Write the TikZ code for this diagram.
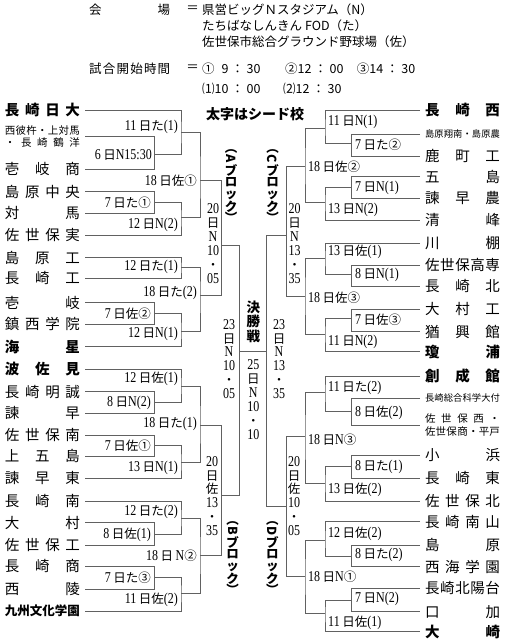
\documentclass[tikz,border=0pt]{standalone}
\usepackage{fontspec}
\setmainfont{Liberation Serif}[FakeStretch=0.8]
\newfontfamily\jp{Noto Sans CJK JP}
\usetikzlibrary{positioning}

% spread the characters of a name over the full name width
\makeatletter
\def\spr#1{\spr@a#1\spr@end}
\def\spr@a#1#2\spr@end{#1\ifx\relax#2\relax\else\hfill\spr@a#2\spr@end\fi}
\makeatother
\newcommand\tm[1]{\makebox[75pt][s]{\spr{#1}}}
\newcommand\jl[1]{{\jp\fontsize{12.5}{12.5}\selectfont #1}}

\begin{document}
\begin{tikzpicture}[x=1pt, y=-1pt,
    bracket/.style={draw=black!62, line width=0.75pt},
    lteam/.style={anchor=east, inner sep=0pt, outer xsep=5pt, font=\jp\fontsize{14.5}{14.5}\selectfont},
    rteam/.style={anchor=west, inner sep=0pt, outer xsep=5pt, font=\jp\fontsize{14.5}{14.5}\selectfont},
    seed/.style={font=\jp\bfseries\fontsize{14.5}{14.5}\selectfont},
    tiny2/.style={align=center, font=\jp\fontsize{10.5}{12.5}\selectfont},
    llbl/.style={anchor=east, inner sep=0pt, font=\fontsize{15}{15}\selectfont},
    rlbl/.style={anchor=west, inner sep=0pt, font=\fontsize{15}{15}\selectfont},
    stk/.style={align=center, inner sep=0pt, font=\fontsize{15}{13.9}\selectfont},
    blk/.style={align=center, inner sep=0pt, font=\jp\bfseries\fontsize{12.5}{11.6}\selectfont},
    hdr/.style={inner sep=0pt, font=\jp\fontsize{12.5}{12.5}\selectfont}]
    \useasboundingbox (0,0) rectangle (505,640);

    % Header
    \node[hdr, anchor=west] (kaijo) at (89,9.3) {\makebox[81pt][s]{会\hfill 場}};
    \node[hdr] (eq1) at (192.5,9.3) {＝};
    \node[hdr, anchor=west] (ven1) at (202,9.3) {県営ビッグＮスタジアム（N）};
    \node[hdr, anchor=west] (ven2) at (202,25.5) {たちばなしんきん FOD（た）};
    \node[hdr, anchor=west] (ven3) at (202,41.7) {佐世保市総合グラウンド野球場（佐）};
    \node[hdr, anchor=west] (jikan) at (89,68.3) {\makebox[81pt][s]{\spr{試合開始時間}}};
    \node[hdr] (eq2) at (192.5,68.3) {＝};
    \node[hdr, anchor=west] (time1) at (202,68.3) {①\hspace{7pt}9 ： 30};
    \node[hdr, anchor=west] (time2) at (285,68.3) {②12 ： 00};
    \node[hdr, anchor=west] (time3) at (356.7,68.3) {③14 ： 30};
    \node[hdr, anchor=west] (time4) at (202,88.3) {⑴10 ： 00};
    \node[hdr, anchor=west] (time5) at (283,88.3) {⑵12 ： 30};
    \node[inner sep=0pt, font=\jp\bfseries\fontsize{14}{14}\selectfont] (note) at (255,114) {太字はシード校};

    % Left teams
    \node[lteam, seed] (L1) at (85,110) {\tm{長崎日大}};
    \node[lteam, tiny2] (L2) at (85,136.7) {\tm{西彼杵・上対馬}\\\tm{・長崎鶴洋}};
    \node[lteam] (L3) at (85,169) {\tm{壱岐商}};
    \node[lteam] (L4) at (85,191.7) {\tm{島原中央}};
    \node[lteam] (L5) at (85,213.3) {\tm{対馬}};
    \node[lteam] (L6) at (85,235) {\tm{佐世保実}};
    \node[lteam] (L7) at (85,257.7) {\tm{島原工}};
    \node[lteam] (L8) at (85,278.3) {\tm{長崎工}};
    \node[lteam] (L9) at (85,302.7) {\tm{壱岐}};
    \node[lteam] (L10) at (85,324.3) {\tm{鎮西学院}};
    \node[lteam, seed] (L11) at (85,346.7) {\tm{海星}};
    \node[lteam, seed] (L12) at (85,369.3) {\tm{波佐見}};
    \node[lteam] (L13) at (85,391.7) {\tm{長崎明誠}};
    \node[lteam] (L14) at (85,413.3) {\tm{諫早}};
    \node[lteam] (L15) at (85,435) {\tm{佐世保南}};
    \node[lteam] (L16) at (85,456) {\tm{上五島}};
    \node[lteam] (L17) at (85,478.3) {\tm{諫早東}};
    \node[lteam] (L18) at (85,501) {\tm{長崎南}};
    \node[lteam] (L19) at (85,522.7) {\tm{大村}};
    \node[lteam] (L20) at (85,545) {\tm{佐世保工}};
    \node[lteam] (L21) at (85,566) {\tm{長崎商}};
    \node[lteam] (L22) at (85,589.3) {\tm{西陵}};
    \node[lteam, font=\jp\bfseries\fontsize{12.5}{12.5}\selectfont] (L23) at (85,611) {\tm{九州文化学園}};

    % Right teams
    \node[rteam, seed] (R1) at (420,110) {\tm{長崎西}};
    \node[rteam, font=\jp\fontsize{9.3}{9.3}\selectfont] (R2) at (420,134.3) {\tm{島原翔南・島原農}};
    \node[rteam] (R3) at (420,156) {\tm{鹿町工}};
    \node[rteam] (R4) at (420,176.7) {\tm{五島}};
    \node[rteam] (R5) at (420,198.3) {\tm{諫早農}};
    \node[rteam] (R6) at (420,220) {\tm{清峰}};
    \node[rteam] (R7) at (420,243.3) {\tm{川棚}};
    \node[rteam] (R8) at (420,265) {\tm{佐世保高専}};
    \node[rteam] (R9) at (420,286) {\tm{長崎北}};
    \node[rteam] (R10) at (420,309.3) {\tm{大村工}};
    \node[rteam] (R11) at (420,331.7) {\tm{猶興館}};
    \node[rteam, seed] (R12) at (420,351.7) {\tm{瓊浦}};
    \node[rteam, seed] (R13) at (420,376) {\tm{創成館}};
    \node[rteam, font=\jp\fontsize{9.3}{9.3}\selectfont] (R14) at (420,398.3) {\tm{長崎総合科学大付}};
    \node[rteam, tiny2] (R15) at (420,425) {\tm{佐世保西・}\\\tm{佐世保商・平戸}};
    \node[rteam] (R16) at (420,455) {\tm{小浜}};
    \node[rteam] (R17) at (420,478.3) {\tm{長崎東}};
    \node[rteam] (R18) at (420,501) {\tm{佐世保北}};
    \node[rteam] (R19) at (420,521.7) {\tm{長崎南山}};
    \node[rteam] (R20) at (420,545) {\tm{島原}};
    \node[rteam] (R21) at (420,566.7) {\tm{西海学園}};
    \node[rteam] (R22) at (420,588.3) {\tm{長崎北陽台}};
    \node[rteam] (R23) at (420,611.7) {\tm{口加}};
    \node[rteam, seed] (R24) at (420,631.7) {\tm{大崎}};

    % Match points (vertical x, winner y)
    \coordinate (a1) at (154.3,154.3);  \coordinate (a2) at (181,132.3);
    \coordinate (a3) at (154.3,202.3);  \coordinate (a4) at (181,217.7);
    \coordinate (a5) at (200,180);      \coordinate (a6) at (181,267.7);
    \coordinate (a7) at (154.3,313.3);  \coordinate (a8) at (181,331.7);
    \coordinate (a9) at (200,295);      \coordinate (a10) at (221.7,245.7);
    \coordinate (b1) at (154.3,402.7);  \coordinate (b2) at (181,386);
    \coordinate (b3) at (154.3,445);    \coordinate (b4) at (181,462.7);
    \coordinate (b5) at (200,425);      \coordinate (b6) at (154.3,534.3);
    \coordinate (b7) at (181,518.3);    \coordinate (b8) at (154.3,577.3);
    \coordinate (b9) at (181,593.3);    \coordinate (b10) at (200,555);
    \coordinate (b11) at (221.7,495);
    \coordinate (c1) at (351.7,143.3);  \coordinate (c2) at (325,128.3);
    \coordinate (c3) at (351.7,187.5);  \coordinate (c4) at (325,202.3);
    \coordinate (c5) at (305,166.7);    \coordinate (c6) at (351.7,274);
    \coordinate (c7) at (325,258.3);    \coordinate (c8) at (351.7,318.3);
    \coordinate (c9) at (325,334);      \coordinate (c10) at (305,296);
    \coordinate (c11) at (286.7,235);
    \coordinate (d1) at (351.7,411.7);  \coordinate (d2) at (325,392.7);
    \coordinate (d3) at (351.7,466.7);  \coordinate (d4) at (325,483.3);
    \coordinate (d5) at (305,436.7);    \coordinate (d6) at (351.7,556);
    \coordinate (d7) at (325,540);      \coordinate (d8) at (351.7,600);
    \coordinate (d9) at (325,613.3);    \coordinate (d10) at (305,576.7);
    \coordinate (d11) at (286.7,506.7);
    \coordinate (fL) at (239.5,351);    \coordinate (fR) at (266.7,351);

    % A block
    \draw[bracket] (L2.east) -| (a1) |- (L3.east);
    \draw[bracket] (L1.east) -| (a2) |- (a1);
    \draw[bracket] (L4.east) -| (a3) |- (L5.east);
    \draw[bracket] (a3) -| (a4) |- (L6.east);
    \draw[bracket] (a2) -| (a5) |- (a4);
    \draw[bracket] (L7.east) -| (a6) |- (L8.east);
    \draw[bracket] (L9.east) -| (a7) |- (L10.east);
    \draw[bracket] (a7) -| (a8) |- (L11.east);
    \draw[bracket] (a6) -| (a9) |- (a8);
    \draw[bracket] (a5) -| (a10) |- (a9);
    % B block
    \draw[bracket] (L13.east) -| (b1) |- (L14.east);
    \draw[bracket] (L12.east) -| (b2) |- (b1);
    \draw[bracket] (L15.east) -| (b3) |- (L16.east);
    \draw[bracket] (b3) -| (b4) |- (L17.east);
    \draw[bracket] (b2) -| (b5) |- (b4);
    \draw[bracket] (L19.east) -| (b6) |- (L20.east);
    \draw[bracket] (L18.east) -| (b7) |- (b6);
    \draw[bracket] (L21.east) -| (b8) |- (L22.east);
    \draw[bracket] (b8) -| (b9) |- (L23.east);
    \draw[bracket] (b7) -| (b10) |- (b9);
    \draw[bracket] (b5) -| (b11) |- (b10);
    % C block
    \draw[bracket] (R2.west) -| (c1) |- (R3.west);
    \draw[bracket] (R1.west) -| (c2) |- (c1);
    \draw[bracket] (R4.west) -| (c3) |- (R5.west);
    \draw[bracket] (c3) -| (c4) |- (R6.west);
    \draw[bracket] (c2) -| (c5) |- (c4);
    \draw[bracket] (R8.west) -| (c6) |- (R9.west);
    \draw[bracket] (R7.west) -| (c7) |- (c6);
    \draw[bracket] (R10.west) -| (c8) |- (R11.west);
    \draw[bracket] (c8) -| (c9) |- (R12.west);
    \draw[bracket] (c7) -| (c10) |- (c9);
    \draw[bracket] (c5) -| (c11) |- (c10);
    % D block
    \draw[bracket] (R14.west) -| (d1) |- (R15.west);
    \draw[bracket] (R13.west) -| (d2) |- (d1);
    \draw[bracket] (R16.west) -| (d3) |- (R17.west);
    \draw[bracket] (d3) -| (d4) |- (R18.west);
    \draw[bracket] (d2) -| (d5) |- (d4);
    \draw[bracket] (R20.west) -| (d6) |- (R21.west);
    \draw[bracket] (R19.west) -| (d7) |- (d6);
    \draw[bracket] (R22.west) -| (d8) |- (R23.west);
    \draw[bracket] (d8) -| (d9) |- (R24.west);
    \draw[bracket] (d7) -| (d10) |- (d9);
    \draw[bracket] (d5) -| (d11) |- (d10);
    % Final
    \draw[bracket] (a10) -| (fL) |- (b11);
    \draw[bracket] (c11) -| (fR) |- (d11);
    \draw[bracket] (fL) -- (fR);

    % Match labels, left
    \node[llbl] (ta1) at (152,155) {6\,\jl{日}N15:30};
    \node[llbl] (ta2) at (178,126.7) {11\,\jl{日た}(1)};
    \node[llbl] (ta3) at (151,202.3) {7\,\jl{日た①}};
    \node[llbl] (ta4) at (178,225) {12\,\jl{日}N(2)};
    \node[llbl] (ta5) at (197,181) {18\,\jl{日佐①}};
    \node[llbl] (ta6) at (178,266.7) {12\,\jl{日た}(1)};
    \node[llbl] (ta7) at (151,313.3) {7\,\jl{日佐②}};
    \node[llbl] (ta8) at (178,334) {12\,\jl{日}N(1)};
    \node[llbl] (ta9) at (197,292.7) {18\,\jl{日た}(2)};
    \node[llbl] (tb1) at (151,403.3) {8\,\jl{日}N(2)};
    \node[llbl] (tb2) at (178,379.3) {12\,\jl{日佐}(1)};
    \node[llbl] (tb3) at (151,446) {7\,\jl{日佐①}};
    \node[llbl] (tb4) at (178,468.3) {13\,\jl{日}N(1)};
    \node[llbl] (tb5) at (197,424) {18\,\jl{日た}(1)};
    \node[llbl] (tb6) at (151,535) {8\,\jl{日佐}(1)};
    \node[llbl] (tb7) at (178,511.7) {12\,\jl{日た}(2)};
    \node[llbl] (tb8) at (151,577.3) {7\,\jl{日た③}};
    \node[llbl] (tb9) at (178,600) {11\,\jl{日佐}(2)};
    \node[llbl] (tb10) at (197,556) {18\,\jl{日}\,N\jl{②}};

    % Match labels, right
    \node[rlbl] (tc1) at (355,145) {7\,\jl{日た②}};
    \node[rlbl] (tc2) at (328,122.3) {11\,\jl{日}N(1)};
    \node[rlbl] (tc3) at (355,188.3) {7\,\jl{日}N(1)};
    \node[rlbl] (tc4) at (328,210) {13\,\jl{日}N(2)};
    \node[rlbl] (tc5) at (308,166.7) {18\,\jl{日佐②}};
    \node[rlbl] (tc6) at (355,275) {8\,\jl{日}N(1)};
    \node[rlbl] (tc7) at (328,252.3) {13\,\jl{日佐}(1)};
    \node[rlbl] (tc8) at (355,319.3) {7\,\jl{日佐③}};
    \node[rlbl] (tc9) at (328,341.7) {11\,\jl{日}N(2)};
    \node[rlbl] (tc10) at (308,297.3) {18\,\jl{日佐③}};
    \node[rlbl] (td1) at (355,412.7) {8\,\jl{日佐}(2)};
    \node[rlbl] (td2) at (328,388.3) {11\,\jl{日た}(2)};
    \node[rlbl] (td3) at (355,466.7) {8\,\jl{日た}(1)};
    \node[rlbl] (td4) at (328,490) {13\,\jl{日佐}(2)};
    \node[rlbl] (td5) at (308,440) {18\,\jl{日}N\jl{③}};
    \node[rlbl] (td6) at (355,555) {8\,\jl{日た}(2)};
    \node[rlbl] (td7) at (328,534.3) {12\,\jl{日佐}(2)};
    \node[rlbl] (td8) at (355,599.3) {7\,\jl{日}N(2)};
    \node[rlbl] (td9) at (328,622.7) {11\,\jl{日佐}(1)};
    \node[rlbl] (td10) at (308,576.7) {18\,\jl{日}N\jl{①}};

    % Block semifinal and final dates
    \node[stk] (sA) at (213,243.5) {20\\\jl{日}\\N\\10\\\jl{・}\\05};
    \node[stk] (sB) at (212,496) {20\\\jl{日}\\\jl{佐}\\13\\\jl{・}\\35};
    \node[stk] (sC) at (294.5,243.5) {20\\\jl{日}\\N\\13\\\jl{・}\\35};
    \node[stk] (sD) at (294,496) {20\\\jl{日}\\\jl{佐}\\10\\\jl{・}\\05};
    \node[stk] (sL) at (229,359) {23\\\jl{日}\\N\\10\\\jl{・}\\05};
    \node[stk] (sR) at (279,359) {23\\\jl{日}\\N\\13\\\jl{・}\\35};
    \node[stk] (sF) at (253.3,399.5) {25\\\jl{日}\\N\\10\\\jl{・}\\10};
    \node[align=center, inner sep=0pt, font=\jp\bfseries\fontsize{13.5}{14.7}\selectfont] (final) at (253.3,321.7) {決\\勝\\戦};

    % Block names
    \node[blk] (bA) at (231,186) {︵\\\rotatebox[origin=c]{-90}{A}\\ブ\\ロ\\ッ\\ク\\︶};
    \node[blk] (bB) at (232.7,558) {︵\\\rotatebox[origin=c]{-90}{B}\\ブ\\ロ\\ッ\\ク\\︶};
    \node[blk] (bC) at (272.5,186) {︵\\\rotatebox[origin=c]{-90}{C}\\ブ\\ロ\\ッ\\ク\\︶};
    \node[blk] (bD) at (272.3,558) {︵\\\rotatebox[origin=c]{-90}{D}\\ブ\\ロ\\ッ\\ク\\︶};
\end{tikzpicture}
\end{document}
